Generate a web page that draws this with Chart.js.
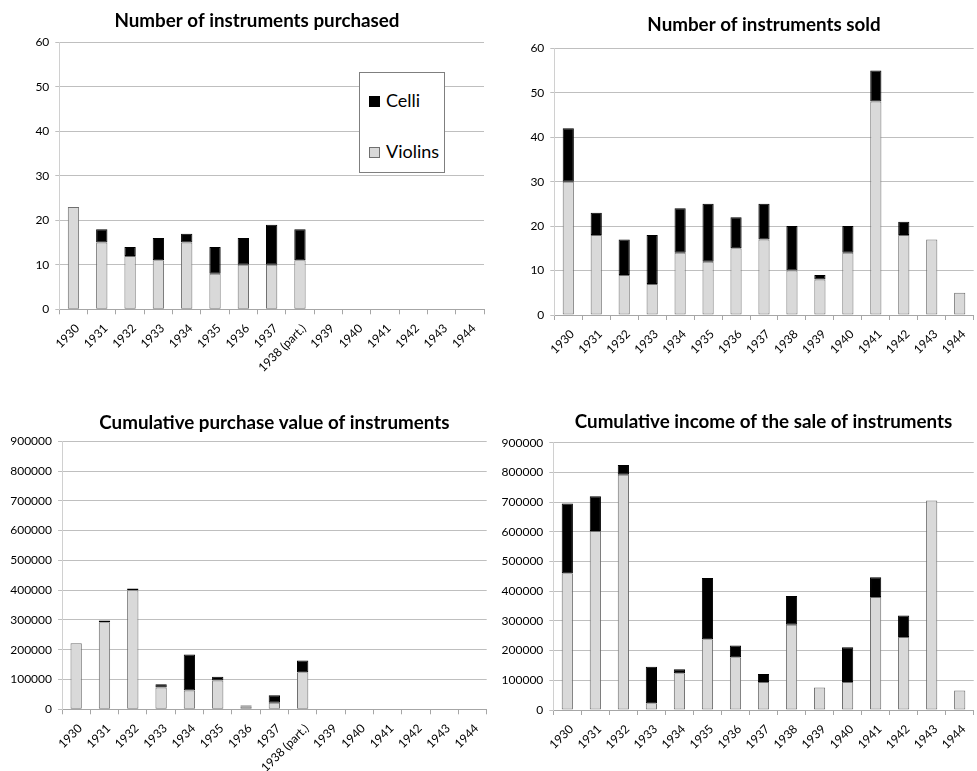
<!DOCTYPE html>
<html>
<head>
<meta charset="utf-8">
<script src="https://cdn.jsdelivr.net/npm/chart.js@4.4.1/dist/chart.umd.min.js"></script>
<style>
html,body{margin:0;padding:0;background:#fff;}
body{width:977px;height:771px;position:relative;overflow:hidden;font-family:Lato,"Open Sans",sans-serif;}
.c{position:absolute;}
#legend{position:absolute;left:359px;top:72px;width:84px;height:99px;border:1px solid #7f7f7f;background:#fff;}
.li{position:absolute;left:9px;height:20px;line-height:20px;font-size:18px;color:#000;white-space:nowrap;}
.sw{display:inline-block;width:11px;height:11px;box-sizing:border-box;vertical-align:middle;margin-right:6px;position:relative;top:-1px;}
</style>
</head>
<body>
<canvas id="c1" class="c"></canvas>
<canvas id="c2" class="c"></canvas>
<canvas id="c3" class="c"></canvas>
<canvas id="c4" class="c"></canvas>
<div id="legend"></div>
<script>
// ---- data ----
const yearsPurchased = ['1930','1931','1932','1933','1934','1935','1936','1937','1938 (part.)','1939','1940','1941','1942','1943','1944'];
const yearsSold = ['1930','1931','1932','1933','1934','1935','1936','1937','1938','1939','1940','1941','1942','1943','1944'];

const purchasedViolins = [23,15,12,11,15,8,10,10,11,null,null,null,null,null,null];
const purchasedCelli   = [0,3,2,5,2,6,6,9,7,null,null,null,null,null,null];

const soldViolins = [30,18,9,7,14,12,15,17,10,8,14,48,18,17,5];
const soldCelli   = [12,5,8,11,10,13,7,8,10,1,6,7,3,0,0];

const purchaseValueViolins = [222000,292000,400000,73000,63000,97000,9000,22000,124000,null,null,null,null,null,null];
const purchaseValueCelli   = [0,6000,6000,11000,121000,12000,4000,25000,40000,null,null,null,null,null,null];

const incomeViolins = [460000,603000,792000,23000,124000,238000,178000,94000,287000,76000,94000,380000,246000,705000,66000];
const incomeCelli   = [235000,117000,33000,123000,13000,206000,39000,27000,97000,0,117000,67000,72000,0,0];

const seriesNames = ['Violins','Celli'];
const titles = ['Number of instruments purchased','Number of instruments sold','Cumulative purchase value of instruments','Cumulative income of the sale of instruments'];

// ---- style ----
const FONT = 'Lato, "Open Sans", sans-serif';
const violinFill = '#d9d9d9', violinBorder = '#6f6f6f';
const celliFill = '#000000', celliBorder = '#000000';

function makeChart(id, labels, violins, celli, title, L) {
  const cv = document.getElementById(id);
  cv.width = L.w; cv.height = L.h;
  cv.style.left = L.left + 'px'; cv.style.top = L.top + 'px';
  cv.style.width = L.w + 'px'; cv.style.height = L.h + 'px';
  return new Chart(cv, {
    type: 'bar',
    data: {
      labels: labels,
      datasets: [
        {label: seriesNames[0], data: violins, backgroundColor: violinFill, borderColor: violinBorder, borderWidth: 1, borderSkipped: false},
        {label: seriesNames[1], data: celli, backgroundColor: celliFill, borderColor: celliBorder, borderWidth: 1, borderSkipped: false}
      ]
    },
    options: {
      responsive: false,
      animation: false,
      devicePixelRatio: 1,
      categoryPercentage: 1,
      barPercentage: 0.4,
      layout: {padding: {left: 0, right: L.padRight, top: 0, bottom: 0}},
      plugins: {
        legend: {display: false},
        tooltip: {enabled: false},
        title: {
          display: true, text: title, color: '#000', fullSize: L.fullSize,
          font: {family: FONT, size: 18.8, weight: 'bold', lineHeight: 1.2},
          padding: {top: L.tTop, bottom: L.tBottom}
        }
      },
      scales: {
        x: {
          stacked: true,
          grid: {display: true, drawOnChartArea: false, drawTicks: true, tickLength: 5, color: '#a6a6a6', offset: true},
          border: {display: true, color: '#a6a6a6'},
          ticks: {minRotation: 45, maxRotation: 45, autoSkip: false, color: '#000', font: {family: FONT, size: 12}, padding: 7, labelOffset: 4},
          afterFit: s => { s.height = L.xH; }
        },
        y: {
          stacked: true, min: 0, max: L.yMax,
          ticks: {stepSize: L.yStep, color: '#000', font: {family: FONT, size: 12}, padding: 6, callback: v => String(v)},
          grid: {color: '#bfbfbf', tickLength: 4, drawTicks: true},
          border: {display: true, color: '#d0d0d0'},
          afterFit: s => { s.width = L.yW; }
        }
      }
    }
  });
}

const ch1 = makeChart('c1', yearsPurchased, purchasedViolins, purchasedCelli, titles[0],
  {left: 30, top: 0, w: 460, h: 385, padRight: 6, yW: 29.3, xH: 75.7, tTop: 9.7, tBottom: 10.0, fullSize: true, yMax: 60, yStep: 10});
makeChart('c2', yearsSold, soldViolins, soldCelli, titles[1],
  {left: 490, top: 0, w: 487, h: 385, padRight: 0, yW: 64.3, xH: 70, tTop: 13.7, tBottom: 12.0, fullSize: false, yMax: 60, yStep: 10});
makeChart('c3', yearsPurchased, purchaseValueViolins, purchaseValueCelli, titles[2],
  {left: 0, top: 390, w: 490, h: 381, padRight: 3.3, yW: 62, xH: 61.7, tTop: 21.7, tBottom: 7.0, fullSize: false, yMax: 900000, yStep: 100000});
makeChart('c4', yearsSold, incomeViolins, incomeCelli, titles[3],
  {left: 490, top: 390, w: 487, h: 381, padRight: 0, yW: 63.3, xH: 61, tTop: 20.4, tBottom: 9.7, fullSize: false, yMax: 900000, yStep: 100000});

// legend for the first chart, built from its datasets (Celli listed first, as in the original)
const lg = document.getElementById('legend');
const order = [1, 0];
const rowTops = [17, 68];
order.forEach((di, k) => {
  const ds = ch1.data.datasets[di];
  const row = document.createElement('div');
  row.className = 'li';
  row.style.top = rowTops[k] + 'px';
  const sw = document.createElement('span');
  sw.className = 'sw';
  sw.style.background = ds.backgroundColor;
  sw.style.border = '1px solid ' + ds.borderColor;
  row.appendChild(sw);
  row.appendChild(document.createTextNode(ds.label));
  lg.appendChild(row);
});
</script>
</body>
</html>
